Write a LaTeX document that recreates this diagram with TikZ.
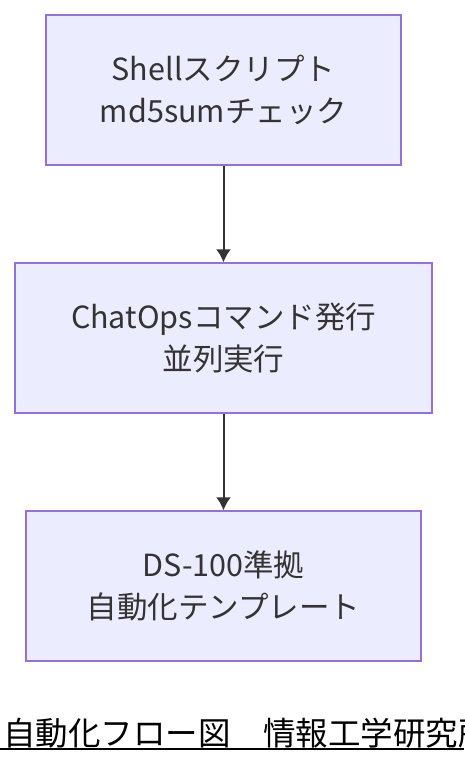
\documentclass[tikz,border=0pt]{standalone}
\usepackage{fontspec}
\setmainfont{Noto Sans CJK JP}
\usepackage{tikz}
\usetikzlibrary{arrows.meta}

\tikzset{
  flowbox/.style={draw=boxline, fill=boxfill, line width=1.5pt, text=textgray,
    align=center, minimum height=150pt, inner sep=0pt,
    font=\fontsize{30.5}{42}\selectfont},
  flowarrow/.style={draw=textgray, line width=2pt, -{Latex[length=13pt,width=15pt]}},
}
\definecolor{boxfill}{HTML}{ECECFF}
\definecolor{boxline}{HTML}{9370DB}
\definecolor{textgray}{HTML}{333333}

\begin{document}
\begin{tikzpicture}[x=1pt,y=-1pt]
\useasboundingbox (0,0) rectangle (464,764);
\clip (0,0) rectangle (464,764);

\node[flowbox, minimum width=355pt] (shell) at (223.5,90) {Shellスクリプト\\md5sumチェック};
\node[flowbox, minimum width=417pt] (chatops) at (223.5,338) {ChatOpsコマンド発行\\並列実行};
\node[flowbox, minimum width=395pt] (ds) at (223.5,586) {DS-100準拠\\自動化テンプレート};

\draw[flowarrow] (shell) -- (chatops);
\draw[flowarrow] (chatops) -- (ds);

% caption (runs past the right edge, as in the original)
\node[anchor=base west, inner sep=0pt, font=\fontsize{32.5}{38}\selectfont] (caption) at (3,745) {自動化フロー図　情報工学研究所};
\draw[line width=2pt] (0,749) -- (464,749);

\end{tikzpicture}
\end{document}
